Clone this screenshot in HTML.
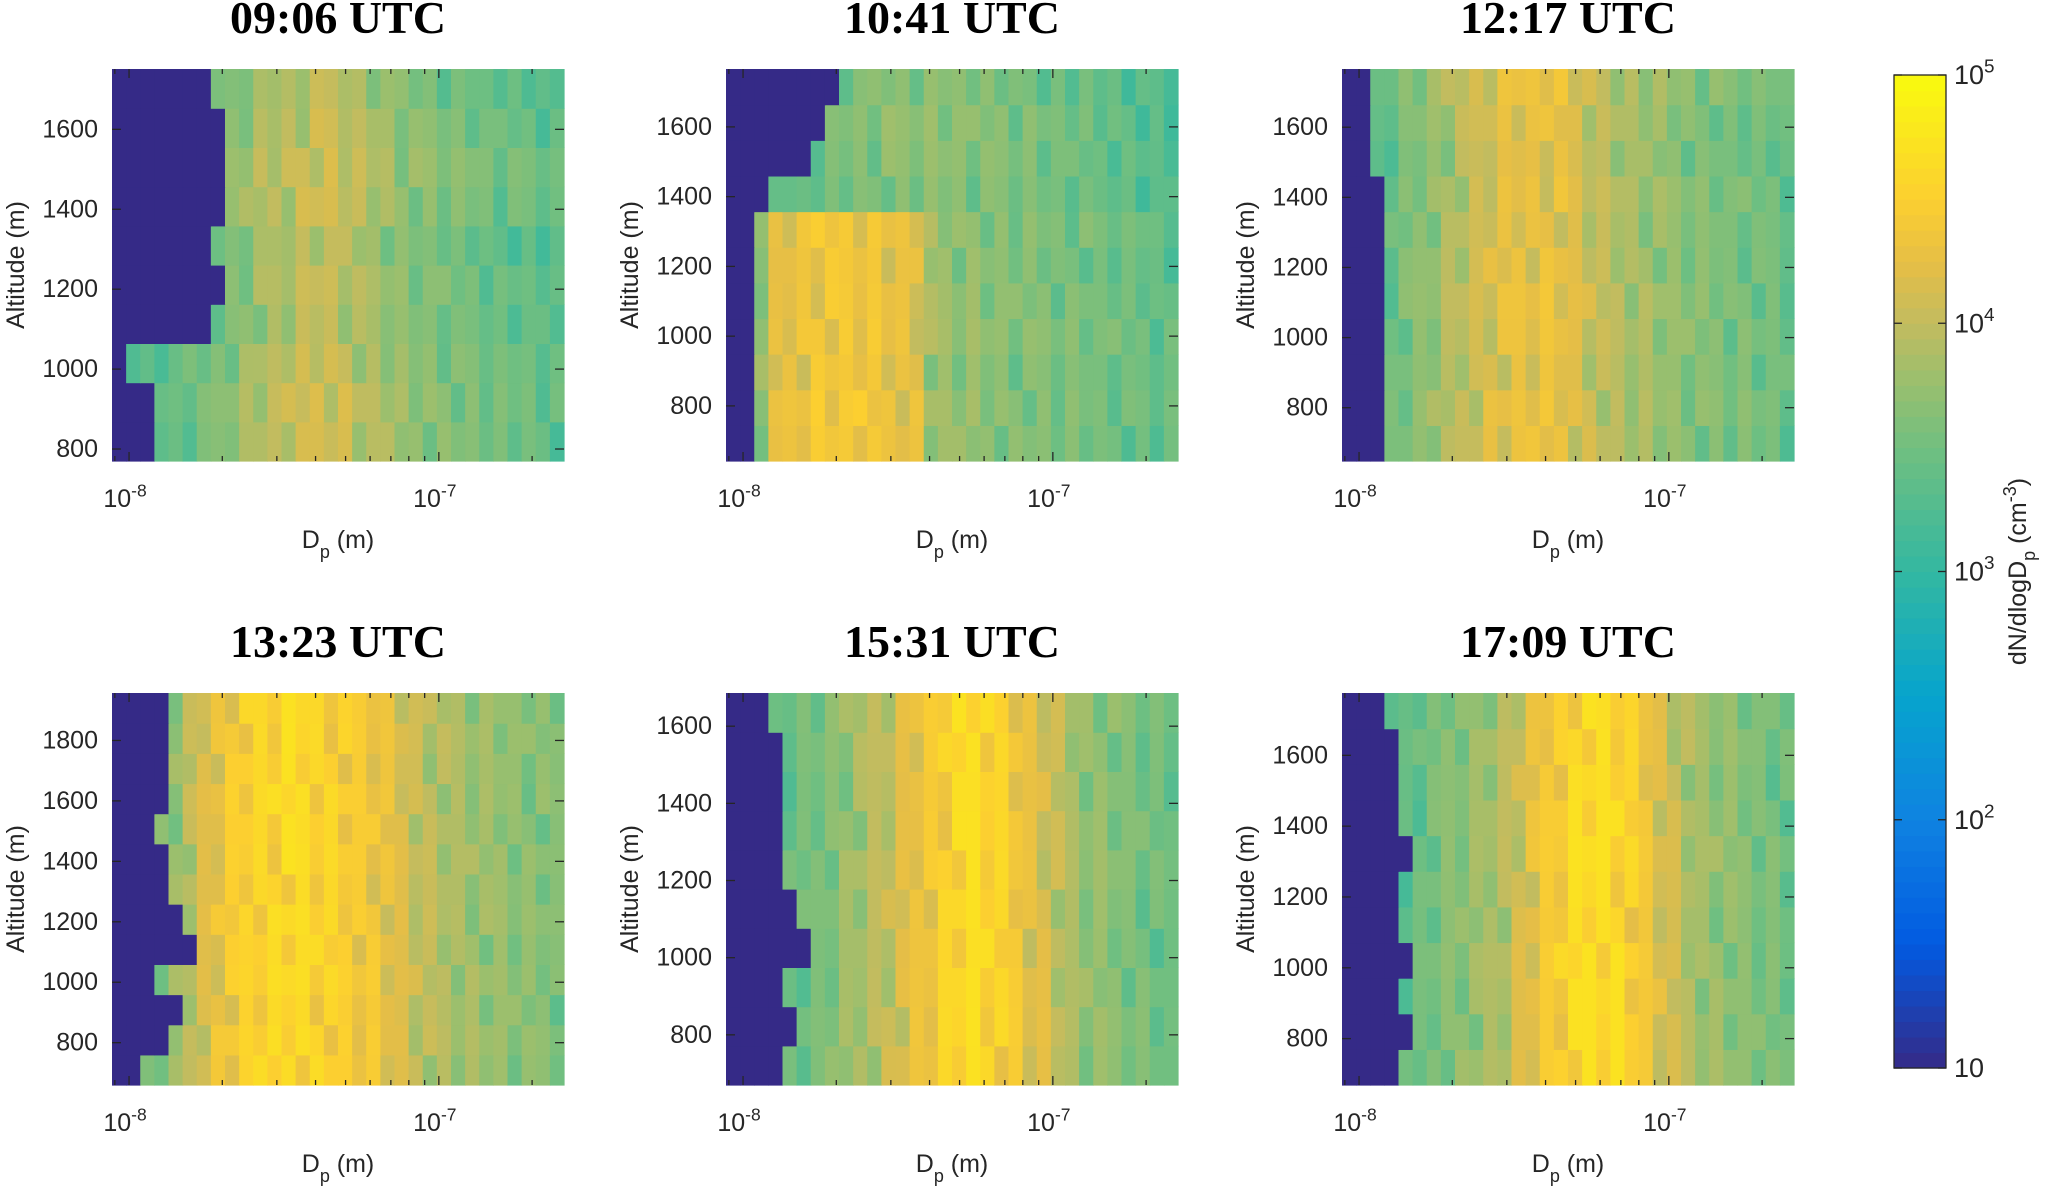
<!DOCTYPE html>
<html><head><meta charset="utf-8">
<style>
html,body{margin:0;padding:0;background:#fff;}
svg{display:block;}
text{font-family:"Liberation Sans",Arial,sans-serif;fill:#262626;}
.title{font-family:"Liberation Serif","Times New Roman",serif;font-weight:bold;font-size:46px;fill:#000;}
</style></head>
<body>
<svg id="chart" width="2067" height="1192" viewBox="0 0 2067 1192" xmlns="http://www.w3.org/2000/svg"></svg>
<script>
// ---- data ----
const panelTitles = ["09:06 UTC","10:41 UTC","12:17 UTC","13:23 UTC","15:31 UTC","17:09 UTC"];
const altRanges = [[770,1751],[642,1766],[648,1766],[660,1957],[670,1686],[669,1776]];
const altTicks = [[800,1000,1200,1400,1600],[800,1000,1200,1400,1600],[800,1000,1200,1400,1600],
  [800,1000,1200,1400,1600,1800],[800,1000,1200,1400,1600],[800,1000,1200,1400,1600]];
// log10 dN/dlogDp profile across 32 diameter bins (8.8 nm .. 254 nm)
const profile1 = [3.2,3.3,3.3,3.4,3.4,3.5,3.5,3.6,3.7,3.8,3.9,3.95,4.0,4.05,4.1,4.1,4.05,3.95,3.9,3.85,3.75,3.7,3.7,3.65,3.6,3.6,3.55,3.5,3.5,3.5,3.45,3.4];
const profile2lo = [3.3,3.4,3.8,4.2,4.3,4.35,4.4,4.4,4.4,4.4,4.35,4.3,4.3,4.25,3.85,3.8,3.75,3.75,3.7,3.7,3.65,3.65,3.65,3.6,3.6,3.6,3.55,3.55,3.5,3.5,3.45,3.45];
const profile2hi = [3.2,3.3,3.4,3.4,3.5,3.5,3.55,3.6,3.65,3.7,3.7,3.75,3.75,3.75,3.75,3.75,3.75,3.7,3.7,3.7,3.65,3.65,3.6,3.6,3.55,3.55,3.5,3.5,3.45,3.4,3.4,3.35];
const profile3 = [3.2,3.3,3.4,3.5,3.6,3.7,3.8,3.9,4.0,4.1,4.2,4.25,4.3,4.3,4.3,4.3,4.2,4.1,4.0,3.95,3.9,3.85,3.8,3.75,3.7,3.65,3.65,3.6,3.6,3.55,3.55,3.5];
const profile4 = [3.4,3.5,3.6,3.7,3.8,4.0,4.2,4.35,4.45,4.55,4.6,4.6,4.65,4.65,4.6,4.55,4.5,4.45,4.4,4.3,4.2,4.1,4.0,3.95,3.9,3.85,3.8,3.8,3.75,3.7,3.7,3.65];
const profile5 = [3.2,3.3,3.4,3.45,3.5,3.55,3.6,3.7,3.8,3.9,4.0,4.1,4.2,4.35,4.45,4.55,4.65,4.7,4.65,4.55,4.45,4.3,4.2,4.05,3.9,3.8,3.75,3.7,3.65,3.6,3.55,3.5];
const profile6 = [3.2,3.3,3.35,3.4,3.45,3.5,3.6,3.7,3.75,3.8,3.9,4.0,4.15,4.3,4.45,4.55,4.65,4.7,4.7,4.65,4.55,4.4,4.25,4.1,3.95,3.85,3.8,3.75,3.7,3.65,3.6,3.55];
// column streak pattern (log deviation), read from the vertical striping
const streak = [0,-0.25,0.05,-0.1,0,-0.3,0.05,0,-0.15,0.05,-0.05,0,-0.2,0.05,0,-0.1,0.05,-0.25,0,0.05,-0.1,0,-0.3,0.05,-0.05,0,-0.15,0.05,-0.2,0,-0.05,-0.3];
// per altitude row (bottom to top): smallest detected diameter (nm) and log offset
const cut1 = [11.5,12,10,19,20,19,20,20,20,19];
const off1 = [0.05,0.08,0.03,-0.05,-0.02,-0.08,0.05,0.08,0.0,-0.08];
const cut2 = [11,11,10.5,11,10.5,10.5,11,12,16,19,20];
const off2 = [0.02,0.05,0.0,0.05,0.02,0.0,0.03,-0.05,-0.02,0.0,-0.05];
const cut3 = [11.5,12,12,12,11.5,12,11.5,11.5,11,11,10.5];
const off3 = [0.02,0.05,0.0,0.03,0.05,0.02,0.0,0.02,-0.05,0.0,0.05];
const cut4 = [11,13,15,12,16,15,13,14,12,13,13,13,13];
const off4 = [0.0,0.02,-0.02,0.02,0.0,0.03,0.0,0.02,0.0,0.03,0.0,0.02,0.0];
const cut5 = [13,15,14,16,15,14,13,14,13,12];
const off5 = [0.0,0.02,0.0,-0.02,0.0,0.02,0.0,-0.02,0.0,0.02];
const cut6 = [14,15,14,15,14,13,15,14,13,13,12];
const off6 = [0.02,0.0,0.0,0.02,-0.02,0.0,0.02,0.0,-0.02,0.0,-0.03];
const panelProfiles = [[profile1],[profile2lo,profile2hi],[profile3],[profile4],[profile5],[profile6]];
const panelRowProfile = [null,[0,0,0,0,0,0,0,1,1,1,1],null,null,null,null];
const panelCuts = [cut1,cut2,cut3,cut4,cut5,cut6];
const panelOffs = [off1,off2,off3,off4,off5,off6];
const cbTicks = [1,2,3,4,5];

// ---- layout ----
const NS="http://www.w3.org/2000/svg";
const svg=document.getElementById('chart');
const colX=[112,726,1342], rowY=[69,693];
const PW=452, PH=392;
const logMin=-8.055, logMax=-6.596;
function el(tag,attrs,parent){const e=document.createElementNS(NS,tag);for(const k in attrs)e.setAttribute(k,attrs[k]);(parent||svg).appendChild(e);return e;}
const stops=[[0,[53,42,135]],[0.125,[2,90,225]],[0.25,[15,131,225]],[0.375,[6,164,205]],[0.5,[51,184,161]],[0.625,[113,191,128]],[0.69,[153,191,110]],[0.75,[194,188,95]],[0.81,[230,190,70]],[0.875,[252,207,48]],[1,[249,251,14]]];
function parula(t){t=Math.max(0,Math.min(1,t));for(let i=1;i<stops.length;i++){if(t<=stops[i][0]){const a=stops[i-1],b=stops[i];const f=(t-a[0])/(b[0]-a[0]);const c=a[1].map((v,j)=>Math.round(v+(b[1][j]-v)*f));return `rgb(${c[0]},${c[1]},${c[2]})`;}}return 'rgb(249,251,14)';}
function supText(parent,x,y,base,exp,anchor,size,name){
  const t=el('text',{x:x,y:y,'text-anchor':anchor,'font-size':size},parent);
  
  
  t.appendChild(document.createTextNode(base));
  const s=el('tspan',{dy:-size*0.42,'font-size':size*0.7},t);s.textContent=exp;return t;}

for(let p=0;p<6;p++){
  const px=colX[p%3], py=rowY[Math.floor(p/3)];
  const [aMin,aMax]=altRanges[p];
  const xs=l=>px+(l-logMin)/(logMax-logMin)*PW;
  const ys=a=>py+PH-(a-aMin)/(aMax-aMin)*PH;
  const g=el('g',{});
  
  
  const cells=el('g',{},g);
  
  
  const cuts=panelCuts[p], offs=panelOffs[p], profs=panelProfiles[p];
  const nR=cuts.length;
  for(let r=0;r<nR;r++){
    const prof=profs[panelRowProfile[p]?panelRowProfile[p][r]:0];
    const nC=prof.length;
    const a0=aMin+(aMax-aMin)*r/nR, a1=aMin+(aMax-aMin)*(r+1)/nR;
    for(let c=0;c<nC;c++){
      const l0=logMin+(logMax-logMin)*c/nC, l1=logMin+(logMax-logMin)*(c+1)/nC;
      const dnm=Math.pow(10,(l0+l1)/2+9);
      let v=prof[c]+offs[r]+streak[(c+7*r+3*p)%streak.length];
      if(dnm<cuts[r]) v=1;
      const x0=xs(l0), x1=xs(l1), y0=ys(a1), y1=ys(a0);
      const rc=el('rect',{x:x0.toFixed(2),y:y0.toFixed(2),width:(x1-x0+0.6).toFixed(2),height:(y1-y0+0.6).toFixed(2),fill:parula((v-1)/4)},cells);
      
      
    }
  }
  // ticks
  const tk=el('g',{stroke:'#262626','stroke-width':1.3},g);
  
  
  for(let e=-9;e<=-7;e++){for(let m=1;m<10;m++){const l=e+Math.log10(m);if(l<logMin||l>logMax)continue;const x=xs(l);const len=m===1?9:5;
    el('line',{x1:x,y1:py+PH,x2:x,y2:py+PH-len},tk);el('line',{x1:x,y1:py,x2:x,y2:py+len},tk);}}
  altTicks[p].forEach(a=>{const y=ys(a);el('line',{x1:px,y1:y,x2:px+9,y2:y},tk);el('line',{x1:px+PW,y1:y,x2:px+PW-9,y2:y},tk);
    const t=el('text',{x:px-14,y:y+8,'text-anchor':'end','font-size':25},g);
    
    
    t.textContent=a;});
  supText(g,xs(-8)-4,py+PH+46,'10','-8','middle',25,'x-tick-label');
  supText(g,xs(-7)-4,py+PH+46,'10','-7','middle',25,'x-tick-label');
  const xl=el('text',{x:px+PW/2,y:py+PH+87,'text-anchor':'middle','font-size':25},g);
  
  
  xl.appendChild(document.createTextNode('D'));
  const sb=el('tspan',{dy:10,'font-size':18},xl);sb.textContent='p';
  const rest=el('tspan',{dy:-10},xl);rest.textContent=' (m)';
  const yl=el('text',{x:0,y:0,'text-anchor':'middle','font-size':25,transform:`translate(${px-88},${py+PH/2}) rotate(-90)`},g);
  
  
  yl.textContent='Altitude (m)';
  const tt=el('text',{x:px+PW/2,y:py-36,'text-anchor':'middle',class:'title'},g);
  
  
  tt.textContent=panelTitles[p];
}
// colorbar
const cb=el('g',{});


const cbX=1894, cbW=52, cbTop=75, cbBot=1068;
const cy=l=>cbBot-(l-1)/4*(cbBot-cbTop);
for(let i=0;i<64;i++){const l0=1+4*i/64,l1=1+4*(i+1)/64;
  const r=el('rect',{x:cbX,y:cy(l1),width:cbW,height:cy(l0)-cy(l1)+0.6,fill:parula((i+0.5)/64)},cb);
  
  }
el('rect',{x:cbX,y:cbTop,width:cbW,height:cbBot-cbTop,fill:'none',stroke:'#262626','stroke-width':1.3},cb);
cbTicks.forEach(l=>{const y=cy(l);el('line',{x1:cbX,y1:y,x2:cbX+8,y2:y,stroke:'#262626','stroke-width':1.3},cb);el('line',{x1:cbX+cbW,y1:y,x2:cbX+cbW-8,y2:y,stroke:'#262626','stroke-width':1.3},cb);
  if(l===1){const t=el('text',{x:cbX+cbW+8,y:y+9,'font-size':27},cb);t.textContent='10';}
  else supText(cb,cbX+cbW+8,y+9,'10',String(l),'start',27,'colorbar-tick-label');});
const cl=el('text',{x:0,y:0,'text-anchor':'middle','font-size':25,transform:`translate(2026,${(cbTop+cbBot)/2}) rotate(-90)`},cb);


cl.appendChild(document.createTextNode('dN/dlogD'));
const s1=el('tspan',{dy:9,'font-size':18},cl);s1.textContent='p';
const s2=el('tspan',{dy:-9},cl);s2.textContent='  (cm';
const s3=el('tspan',{dy:-10,'font-size':18},cl);s3.textContent='-3';
const s4=el('tspan',{dy:10},cl);s4.textContent=')';
</script>
</body></html>
